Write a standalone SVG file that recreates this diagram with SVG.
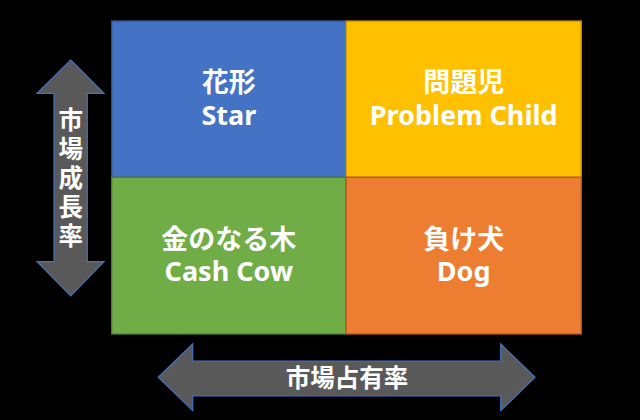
<svg xmlns="http://www.w3.org/2000/svg" width="640" height="420" viewBox="0 0 640 420">
<style>
.q{stroke-width:1.3}
.t{font-family:"Noto Sans","Noto Sans CJK JP",sans-serif;font-weight:bold;font-size:27px;fill:#fff;text-anchor:middle}
.arr{fill:#595959;stroke:#4472C4;stroke-width:1.2}
.at{font-family:"Noto Sans CJK JP",sans-serif;font-weight:bold;font-size:24.5px;fill:#fff;text-anchor:middle}
</style>
<rect width="640" height="420" fill="#000"/>
<g id="connectors">
<g id="axis-y">
<polygon class="arr" points="70.7,60 104,93.3 87.3,93.3 87.3,261.7 104,261.7 70.7,296 37,261.7 54,261.7 54,93.3 37,93.3"/>
<text class="at" x="70.7" y="179.5" writing-mode="vertical-rl" letter-spacing="4.5">市場成長率</text>
</g>
<g id="axis-x">
<polygon class="arr" points="158.3,377.3 192.7,344 192.7,361 500.7,361 500.7,344 535,377.3 500.7,410.7 500.7,396 192.7,396 192.7,410.7"/>
<text class="at" x="347" y="387">市場占有率</text>
</g>
</g>
<g id="star">
<rect class="q" x="111.7" y="21" width="234.3" height="156.3" fill="#4472C4" stroke="#2F528F"/>
<text class="t" x="228.8" y="92">花形<tspan x="228.8" y="124.5">Star</tspan></text>
</g>
<g id="problem-child">
<rect class="q" x="346" y="21" width="235.3" height="156.3" fill="#FFC000" stroke="#BC8C00"/>
<text class="t" x="463.7" y="92">問題児<tspan x="463.7" y="124.5">Problem Child</tspan></text>
</g>
<g id="cash-cow">
<rect class="q" x="111.7" y="177.3" width="234.3" height="156.7" fill="#70AD47" stroke="#507E32"/>
<text class="t" x="228.8" y="248.5">金のなる木<tspan x="228.8" y="281">Cash Cow</tspan></text>
</g>
<g id="dog">
<rect class="q" x="346" y="177.3" width="235.3" height="156.7" fill="#ED7D31" stroke="#AE5A21"/>
<text class="t" x="463.7" y="248.5">負け犬<tspan x="463.7" y="281">Dog</tspan></text>
</g>
</svg>
